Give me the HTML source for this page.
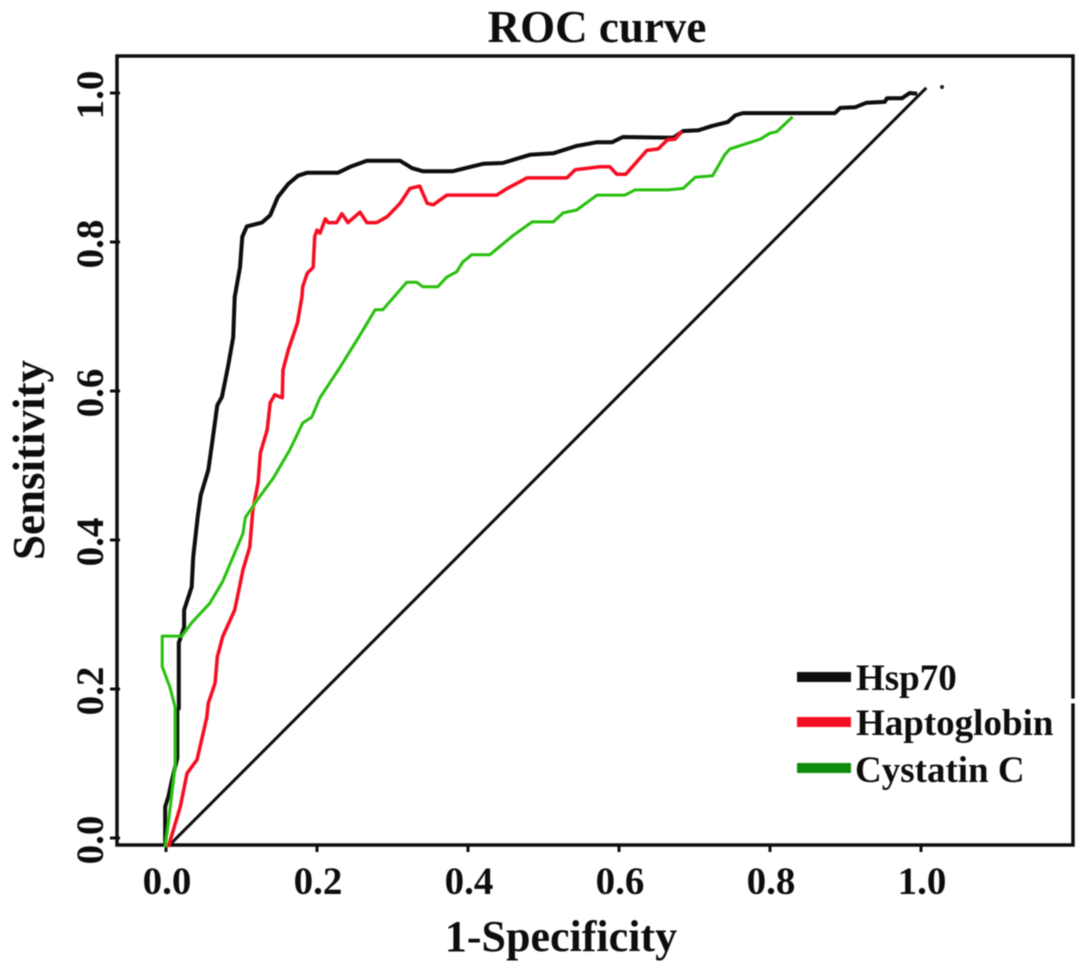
<!DOCTYPE html>
<html>
<head>
<meta charset="utf-8">
<title>ROC curve</title>
<style>
  html, body { margin: 0; padding: 0; background: #fff; }
  svg { display: block; }
  text { font-family: "Liberation Serif", serif; font-weight: bold; fill: #111; }
</style>
</head>
<body>
<svg id="chart" width="1087" height="972" viewBox="0 0 1087 972" xmlns="http://www.w3.org/2000/svg">
  <defs>
    <filter id="soft" x="-5%" y="-5%" width="110%" height="110%"><feGaussianBlur stdDeviation="0.6"/></filter>
  </defs>
  <rect width="1087" height="972" fill="#fff"/>
  <g id="scene" filter="url(#soft)">
    <text x="597" y="42" font-size="45" text-anchor="middle">ROC curve</text>
    <text x="561" y="951" font-size="44" text-anchor="middle">1-Specificity</text>
    <text transform="translate(44,460) rotate(-90)" font-size="45" text-anchor="middle">Sensitivity</text>
    <rect x="117" y="56" width="956" height="789" fill="none" stroke="#111" stroke-width="3.5"/>
    <rect x="1070" y="699" width="7" height="4" fill="#fff"/>
    <g id="ticks"></g>
    <g id="curves"></g>
    <circle cx="942" cy="87" r="2" fill="#222"/>
    <g>
      <rect x="797" y="672" width="54" height="10" fill="#0a0a0a"/>
      <text x="856" y="690" font-size="37">Hsp70</text>
      <rect x="797" y="717" width="54" height="10" fill="#f50a20"/>
      <text x="856" y="735" font-size="37">Haptoglobin</text>
      <rect x="797" y="763" width="54" height="10" fill="#0c8c10"/>
      <text x="855" y="782" font-size="37">Cystatin C</text>
    </g>
  </g>
</svg>
<script>
const xTickValues = [0, 0.2, 0.4, 0.6, 0.8, 1.0];
const yTickValues = [0, 0.2, 0.4, 0.6, 0.8, 1.0];
const xTickLabels = ["0.0", "0.2", "0.4", "0.6", "0.8", "1.0"];
const yTickLabels = ["0.0", "0.2", "0.4", "0.6", "0.8", "1.0"];

const diagonalFpr = [0.005, 1.007];
const diagonalTpr = [-0.009, 1.007];

const hsp70Fpr = [-0.001, -0.001, 0.003, 0.008, 0.015, 0.015, 0.017, 0.017, 0.024, 0.024, 0.034, 0.036, 0.042, 0.046, 0.056, 0.061, 0.068, 0.074, 0.082, 0.089, 0.091, 0.098, 0.101, 0.107, 0.127, 0.138, 0.148, 0.162, 0.175, 0.187, 0.228, 0.244, 0.266, 0.310, 0.326, 0.340, 0.380, 0.420, 0.446, 0.482, 0.513, 0.544, 0.571, 0.591, 0.605, 0.672, 0.685, 0.705, 0.724, 0.744, 0.754, 0.764, 0.886, 0.893, 0.913, 0.928, 0.952, 0.955, 0.975, 0.985, 0.995];
const hsp70Tpr = [-0.009, 0.042, 0.055, 0.078, 0.107, 0.172, 0.174, 0.262, 0.283, 0.306, 0.337, 0.377, 0.431, 0.460, 0.494, 0.530, 0.581, 0.592, 0.632, 0.672, 0.726, 0.766, 0.807, 0.821, 0.826, 0.836, 0.860, 0.878, 0.889, 0.893, 0.893, 0.901, 0.909, 0.909, 0.899, 0.895, 0.895, 0.905, 0.906, 0.917, 0.919, 0.929, 0.934, 0.934, 0.941, 0.940, 0.949, 0.950, 0.956, 0.961, 0.970, 0.973, 0.973, 0.980, 0.981, 0.987, 0.988, 0.993, 0.993, 1.000, 0.999];

const haptoglobinFpr = [0.003, 0.019, 0.028, 0.041, 0.054, 0.056, 0.065, 0.068, 0.075, 0.091, 0.102, 0.111, 0.115, 0.122, 0.125, 0.134, 0.138, 0.144, 0.154, 0.155, 0.162, 0.174, 0.180, 0.181, 0.187, 0.195, 0.197, 0.200, 0.204, 0.211, 0.215, 0.226, 0.233, 0.241, 0.257, 0.266, 0.279, 0.293, 0.310, 0.323, 0.336, 0.346, 0.354, 0.372, 0.438, 0.452, 0.478, 0.531, 0.542, 0.575, 0.588, 0.597, 0.609, 0.637, 0.652, 0.664, 0.674, 0.683];
const haptoglobinTpr = [-0.012, 0.042, 0.087, 0.105, 0.162, 0.181, 0.208, 0.243, 0.270, 0.306, 0.360, 0.391, 0.440, 0.477, 0.517, 0.548, 0.584, 0.595, 0.591, 0.628, 0.655, 0.691, 0.726, 0.740, 0.758, 0.766, 0.807, 0.816, 0.812, 0.831, 0.826, 0.826, 0.838, 0.826, 0.840, 0.826, 0.826, 0.834, 0.852, 0.872, 0.875, 0.852, 0.850, 0.863, 0.863, 0.872, 0.886, 0.886, 0.897, 0.901, 0.901, 0.891, 0.891, 0.923, 0.925, 0.937, 0.938, 0.948];

const cystatinFpr = [-0.001, 0.003, 0.012, 0.012, 0.005, -0.005, -0.005, 0.021, 0.034, 0.058, 0.075, 0.102, 0.105, 0.121, 0.142, 0.164, 0.181, 0.193, 0.204, 0.230, 0.257, 0.277, 0.287, 0.319, 0.332, 0.340, 0.360, 0.372, 0.385, 0.393, 0.405, 0.429, 0.460, 0.485, 0.513, 0.526, 0.544, 0.571, 0.608, 0.621, 0.665, 0.685, 0.701, 0.724, 0.740, 0.747, 0.787, 0.800, 0.809, 0.830];
const cystatinTpr = [-0.012, 0.020, 0.095, 0.176, 0.203, 0.230, 0.271, 0.271, 0.289, 0.315, 0.344, 0.409, 0.430, 0.454, 0.483, 0.521, 0.557, 0.565, 0.591, 0.631, 0.675, 0.709, 0.709, 0.746, 0.746, 0.740, 0.740, 0.753, 0.760, 0.773, 0.783, 0.783, 0.809, 0.827, 0.827, 0.839, 0.843, 0.863, 0.863, 0.870, 0.870, 0.872, 0.887, 0.889, 0.917, 0.925, 0.938, 0.946, 0.948, 0.968];

const SVG_NS = 'http://www.w3.org/2000/svg';
function xScale(v) { return 166 + 755 * v; }
function yScale(v) { return 838 - 745 * v; }

function pointsFrom(xs, ys) {
  return xs.map(function (v, i) {
    return xScale(v).toFixed(1) + ',' + yScale(ys[i]).toFixed(1);
  }).join(' ');
}

const ticksLayer = document.getElementById('ticks');
const curvesLayer = document.getElementById('curves');

xTickValues.forEach(function (v, i) {
  const tick = document.createElementNS(SVG_NS, 'line');
  
  
  tick.setAttribute('x1', xScale(v));
  tick.setAttribute('x2', xScale(v));
  tick.setAttribute('y1', 845);
  tick.setAttribute('y2', 852);
  tick.setAttribute('stroke', '#111');
  tick.setAttribute('stroke-width', 3);
  ticksLayer.appendChild(tick);
  const label = document.createElementNS(SVG_NS, 'text');
  
  
  label.setAttribute('x', xScale(v) + 1);
  label.setAttribute('y', 894);
  label.setAttribute('font-size', 39);
  label.setAttribute('text-anchor', 'middle');
  label.textContent = xTickLabels[i];
  ticksLayer.appendChild(label);
});

yTickValues.forEach(function (v, i) {
  const tick = document.createElementNS(SVG_NS, 'line');
  
  
  tick.setAttribute('x1', 110);
  tick.setAttribute('x2', 120);
  tick.setAttribute('y1', yScale(v));
  tick.setAttribute('y2', yScale(v));
  tick.setAttribute('stroke', '#111');
  tick.setAttribute('stroke-width', 3);
  ticksLayer.appendChild(tick);
  const label = document.createElementNS(SVG_NS, 'text');
  
  
  label.setAttribute('transform', 'translate(103,' + (yScale(v) + 2) + ') rotate(-90)');
  label.setAttribute('font-size', 39);
  label.setAttribute('text-anchor', 'middle');
  label.textContent = yTickLabels[i];
  ticksLayer.appendChild(label);
});

const diagonal = document.createElementNS(SVG_NS, 'polyline');


diagonal.setAttribute('points', pointsFrom(diagonalFpr, diagonalTpr));
diagonal.setAttribute('fill', 'none');
diagonal.setAttribute('stroke', '#111');
diagonal.setAttribute('stroke-width', 3);
curvesLayer.appendChild(diagonal);

const hsp70Line = document.createElementNS(SVG_NS, 'polyline');


hsp70Line.setAttribute('points', pointsFrom(hsp70Fpr, hsp70Tpr));
hsp70Line.setAttribute('fill', 'none');
hsp70Line.setAttribute('stroke', '#0a0a0a');
hsp70Line.setAttribute('stroke-width', 4);
hsp70Line.setAttribute('stroke-linejoin', 'round');
curvesLayer.appendChild(hsp70Line);

const haptoglobinLine = document.createElementNS(SVG_NS, 'polyline');


haptoglobinLine.setAttribute('points', pointsFrom(haptoglobinFpr, haptoglobinTpr));
haptoglobinLine.setAttribute('fill', 'none');
haptoglobinLine.setAttribute('stroke', '#f50a20');
haptoglobinLine.setAttribute('stroke-width', 3.5);
haptoglobinLine.setAttribute('stroke-linejoin', 'round');
curvesLayer.appendChild(haptoglobinLine);

const cystatinLine = document.createElementNS(SVG_NS, 'polyline');


cystatinLine.setAttribute('points', pointsFrom(cystatinFpr, cystatinTpr));
cystatinLine.setAttribute('fill', 'none');
cystatinLine.setAttribute('stroke', '#28c00a');
cystatinLine.setAttribute('stroke-width', 3);
cystatinLine.setAttribute('stroke-linejoin', 'round');
curvesLayer.appendChild(cystatinLine);
</script>
</body>
</html>
